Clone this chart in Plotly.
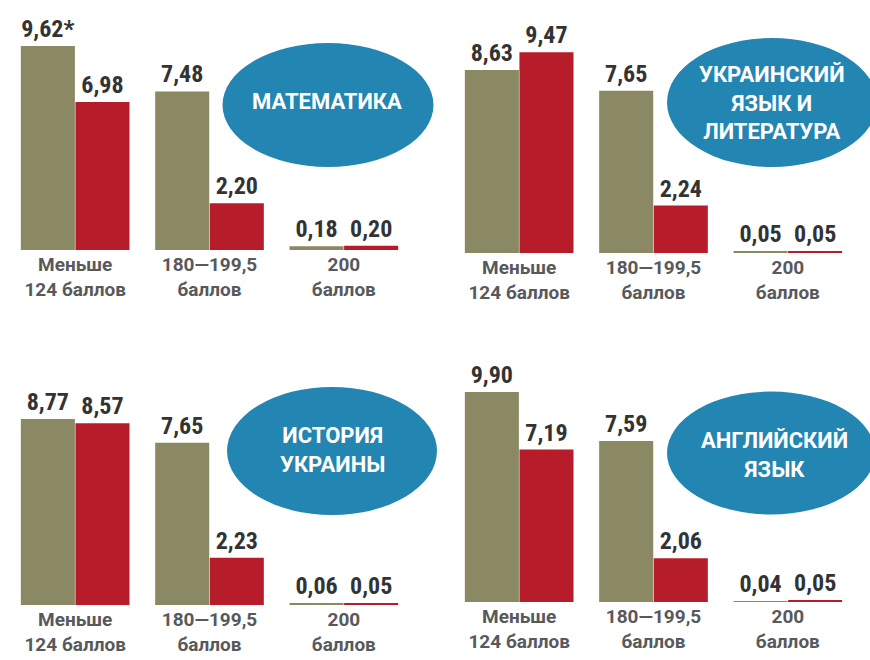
import plotly.graph_objects as go

# ---- data ----
categories = ["Меньше<br>124 баллов", "180—199,5<br>баллов", "200<br>баллов"]
subjects = ["МАТЕМАТИКА", "УКРАИНСКИЙ<br>ЯЗЫК И<br>ЛИТЕРАТУРА", "ИСТОРИЯ<br>УКРАИНЫ", "АНГЛИЙСКИЙ<br>ЯЗЫК"]
olive_math = [9.62, 7.48, 0.18]
red_math = [6.98, 2.20, 0.20]
olive_ukr = [8.63, 7.65, 0.05]
red_ukr = [9.47, 2.24, 0.05]
olive_hist = [8.77, 7.65, 0.06]
red_hist = [8.57, 2.23, 0.05]
olive_eng = [9.90, 7.59, 0.04]
red_eng = [7.19, 2.06, 0.05]
footnote_mark = "*"  # appended to first math value

W, H = 870, 660
FONT = "Roboto Condensed, Liberation Sans Narrow, Roboto, sans-serif"
FONT_WIDE = "Roboto, Liberation Sans, sans-serif"
OLIVE = "#8a8963"
RED = "#b71c2a"
BLUE = "#2385b1"
SCALE = 21.2  # px per unit

def fmt(v):
    return f"{v:.2f}".replace(".", ",")

# panel geometry
panels = [
    (olive_math, red_math, subjects[0], (8, 411, 0, 250), (328, 105, 105.5, 62), (327, 101)),
    (olive_ukr, red_ukr, subjects[1], (452, 855, 0, 253), (772, 102.5, 105, 64.5), (772, 103)),
    (olive_hist, red_hist, subjects[2], (8, 411, 330, 605), (332, 451, 105, 64), (332, 450)),
    (olive_eng, red_eng, subjects[3], (452, 855, 330, 602), (771, 453, 104, 61.5), (774, 455)),
]

fig = go.Figure()
shapes = []
annotations = []
for i, (ov, rv, title, (x0, x1, top, base), ell, tpos) in enumerate(panels):
    n = "" if i == 0 else str(i + 1)
    xa, ya = "x" + n, "y" + n
    otext = [fmt(v) for v in ov]
    if i == 0:
        otext[0] += footnote_mark
    rtext = [fmt(v) for v in rv]
    for vals, txt, col in ((ov, otext, OLIVE), (rv, rtext, RED)):
        fig.add_trace(go.Bar(
            x=categories, y=vals, text=txt, textposition="outside",
            textfont=dict(family=FONT, size=24, color="#333333", weight="bold"),
            constraintext="none", cliponaxis=False,
            marker=dict(color=col, line=dict(width=0)),
            xaxis=xa, yaxis=ya, showlegend=False, hoverinfo="skip",
        ))
    R = (base - top) / SCALE
    fig.update_layout(**{
        "xaxis" + n: dict(domain=[x0 / W, x1 / W], range=[-0.5, 2.5], type="category",
                          showgrid=False, zeroline=False, showline=False, ticks="",
                          tickfont=dict(family=FONT_WIDE, size=19, color="#58595b", weight="bold"),
                          anchor=ya, fixedrange=True, ticklabelstandoff=1),
        "yaxis" + n: dict(domain=[1 - base / H, 1 - top / H], range=[0, R],
                          visible=False, anchor=xa, fixedrange=True),
    })
    cx, cy, rx, ry = ell
    shapes.append(dict(type="circle", xref="paper", yref="paper",
                       x0=(cx - rx) / W, x1=(cx + rx) / W,
                       y0=1 - (cy + ry) / H, y1=1 - (cy - ry) / H,
                       fillcolor=BLUE, line=dict(width=0), layer="above"))
    annotations.append(dict(text=title, xref="paper", yref="paper",
                            x=tpos[0] / W, y=1 - tpos[1] / H, xanchor="center", yanchor="middle",
                            showarrow=False, align="center",
                            font=dict(family=FONT_WIDE, size=22, color="white", weight="bold")))

fig.update_layout(
    width=W, height=H, margin=dict(l=0, r=0, t=0, b=0),
    paper_bgcolor="white", plot_bgcolor="white",
    barmode="group", bargap=0.187, bargroupgap=0.01,
    shapes=shapes, annotations=annotations,
)

fig.write_html("out.html", config={"displayModeBar": False},
               post_script="document.body.style.margin='0';")
